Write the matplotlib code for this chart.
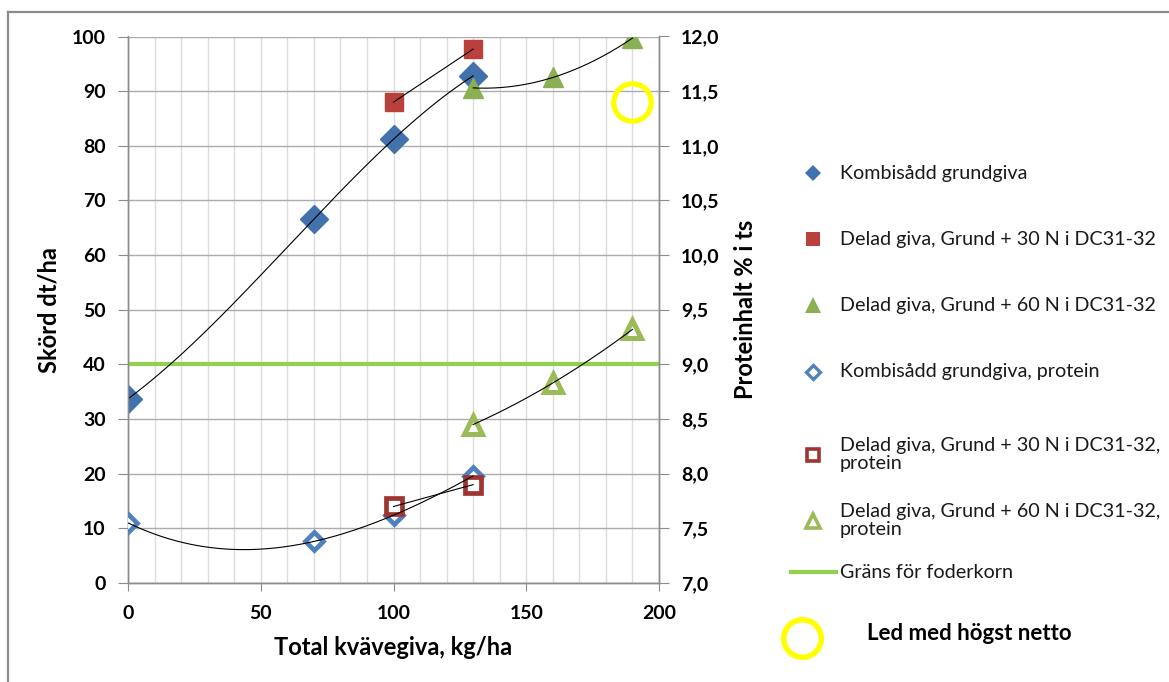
import numpy as np
import matplotlib
matplotlib.use("Agg")
import matplotlib.pyplot as plt
from matplotlib.lines import Line2D

plt.rcParams['font.family'] = ['Lato', 'DejaVu Sans']

# --- data -------------------------------------------------------------
kombi_x = [0, 70, 100, 130]
kombi_yield = [33.7, 66.6, 81.2, 92.8]
kombi_protein = [7.55, 7.38, 7.62, 7.98]

delad30_x = [100, 130]
delad30_yield = [88.0, 97.7]
delad30_protein = [7.70, 7.90]

delad60_x = [130, 160, 190]
delad60_yield = [90.6, 92.5, 99.7]
delad60_protein = [8.45, 8.83, 9.32]

feed_limit_yield_axis = 40          # 9,0 % protein on right axis
best_x, best_y = 190, 88.1           # "Led med högst netto"

x_ticks = [0, 50, 100, 150, 200]
left_ticks = list(range(0, 101, 10))
right_ticks = [7.0, 7.5, 8.0, 8.5, 9.0, 9.5, 10.0, 10.5, 11.0, 11.5, 12.0]
right_labels = ["7,0", "7,5", "8,0", "8,5", "9,0", "9,5", "10,0", "10,5", "11,0", "11,5", "12,0"]

labels = [
    "Kombisådd grundgiva",
    "Delad giva, Grund + 30 N i DC31-32",
    "Delad giva, Grund + 60 N i DC31-32",
    "Kombisådd grundgiva, protein",
    "Delad giva, Grund + 30 N i DC31-32,\nprotein",
    "Delad giva, Grund + 60 N i DC31-32,\nprotein",
    "Gräns för foderkorn",
]
best_label = "Led med högst netto"

# --- styling ----------------------------------------------------------
BLUE = "#4172AE"
BLUE_E = "#4F81BD"
RED = "#B9403D"
RED_E = "#9E3532"
GREEN = "#8BB054"
GREEN_E = "#9BBB59"
LIMIT = "#92D050"
GRID = "#ACACAC"
MINOR = "#DCDCDC"
TICKFS = 14
LABELFS = 17

W, H = 1169, 682
fig = plt.figure(figsize=(W / 100, H / 100), dpi=100)

ax = fig.add_axes([128 / W, 1 - 583 / H, (659 - 128) / W, (583 - 36.5) / H])
ax2 = ax.twinx()

ax.set_xlim(0, 200)
ax.set_ylim(0, 100)
ax2.set_ylim(7.0, 12.0)

# grid
ax.set_xticks(x_ticks)
ax.set_xticks(np.arange(0, 201, 10), minor=True)
ax.set_yticks(left_ticks)
ax.grid(which="minor", axis="x", color=MINOR, lw=1.0)
ax.grid(which="major", axis="x", color=MINOR, lw=1.0)
ax.grid(which="major", axis="y", color=GRID, lw=1.0)
ax.set_axisbelow(True)

for a in (ax, ax2):
    a.spines["top"].set_visible(False)
    for s in ("left", "bottom", "right"):
        a.spines[s].set_color("#8C8C8C")
        a.spines[s].set_linewidth(1.0)

ax.tick_params(axis="x", which="major", length=6, color="#8C8C8C", pad=10,
               labelsize=TICKFS)
ax.tick_params(axis="x", which="minor", length=0)
ax.tick_params(axis="y", length=7, color="#8C8C8C", pad=9, labelsize=TICKFS)
ax2.set_yticks(right_ticks)
ax2.set_yticklabels(right_labels)
ax2.tick_params(axis="y", length=7, color="#8C8C8C", pad=9, labelsize=TICKFS)
for lab in ax.get_xticklabels() + ax.get_yticklabels() + ax2.get_yticklabels():
    lab.set_fontweight("bold")

ax.set_xlabel("Total kvävegiva, kg/ha", fontsize=LABELFS, fontweight="bold", labelpad=10)
ax.set_ylabel("Skörd dt/ha", fontsize=LABELFS, fontweight="bold", labelpad=8)
ax2.set_ylabel("Proteinhalt % i ts", fontsize=LABELFS, fontweight="bold", labelpad=10)

# feed-grain limit
ax.axhline(feed_limit_yield_axis, color=LIMIT, lw=3.0, zorder=2)


def trend(a, xs, ys):
    deg = min(3, len(xs) - 1)
    c = np.polyfit(xs, ys, deg)
    xx = np.linspace(min(xs), max(xs), 200)
    a.plot(xx, np.polyval(c, xx), color="black", lw=0.8, zorder=4)


# yield series
ax.plot(kombi_x, kombi_yield, ls="none", marker="D", ms=14, color=BLUE, zorder=3)
ax.plot(delad30_x, delad30_yield, ls="none", marker="s", ms=12.5, color=RED, zorder=3)
ax.plot(delad60_x, delad60_yield, ls="none", marker="^", ms=14, color=GREEN, zorder=3)
trend(ax, kombi_x, kombi_yield)
trend(ax, delad30_x, delad30_yield)
trend(ax, delad60_x, delad60_yield)

# protein series
ax2.plot(kombi_x, kombi_protein, ls="none", marker="D", ms=9, mfc="white",
         mec=BLUE_E, mew=3.4, zorder=3)
ax2.plot(delad30_x, delad30_protein, ls="none", marker="s", ms=11, mfc="white",
         mec=RED_E, mew=3.4, zorder=3)
ax2.plot(delad60_x, delad60_protein, ls="none", marker="^", ms=12.5, mfc="white",
         mec=GREEN_E, mew=3.6, zorder=3)
trend(ax2, kombi_x, kombi_protein)
trend(ax2, delad30_x, delad30_protein)
trend(ax2, delad60_x, delad60_protein)

# best treatment marker
ax.plot([best_x], [best_y], ls="none", marker="o", ms=27, mfc="none", mec="#FFFF00",
        mew=3.8, zorder=5, clip_on=False)

# outer frame (top and left edges)
fig.add_artist(Line2D([8 / W, 1], [1 - 12 / H, 1 - 12 / H], transform=fig.transFigure,
                      color="#8C8C8C", lw=1.6))
fig.add_artist(Line2D([8 / W, 8 / W], [0, 1 - 12 / H], transform=fig.transFigure,
                      color="#8C8C8C", lw=1.6))

# legend, placed entry by entry
entries = [
    dict(marker="D", ms=8, mfc=BLUE, mec=BLUE, mew=0),
    dict(marker="s", ms=10.5, mfc=RED, mec=RED, mew=0),
    dict(marker="^", ms=11, mfc=GREEN, mec=GREEN, mew=0),
    dict(marker="D", ms=7, mfc="white", mec=BLUE_E, mew=2.4),
    dict(marker="s", ms=8.5, mfc="white", mec=RED_E, mew=2.6),
    dict(marker="^", ms=9.5, mfc="white", mec=GREEN_E, mew=2.6),
    None,
]
ys = [173, 239, 305, 372, 454.5, 520.5, 572]
for lab, st, y in zip(labels, entries, ys):
    yf = 1 - y / H
    if st is None:
        fig.add_artist(Line2D([791 / W, 836 / W], [yf, yf], transform=fig.transFigure,
                              color=LIMIT, lw=3.0))
    else:
        fig.add_artist(Line2D([813 / W], [yf], transform=fig.transFigure, ls="none", **st))
    fig.text(840 / W, yf, lab, fontsize=14.2, va="center", ha="left", color="#1a1a1a",
             linespacing=1.12)

fig.add_artist(Line2D([802 / W], [1 - 638 / H], transform=fig.transFigure, ls="none",
                      marker="o", ms=27, mfc="none", mec="#FFFF00", mew=4.0))
fig.text(867 / W, 1 - 633 / H, best_label, fontsize=16, fontweight="bold",
         va="center", ha="left", color="black")

fig.savefig("out.png", dpi=100, facecolor="white")
